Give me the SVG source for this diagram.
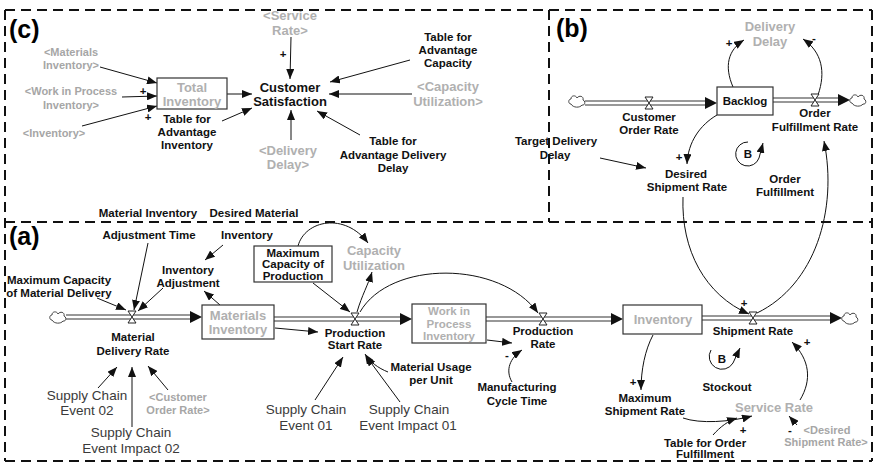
<svg xmlns="http://www.w3.org/2000/svg" width="875" height="463" viewBox="0 0 875 463">
<style>
.t{font-family:"Liberation Sans",Arial,Helvetica,sans-serif;font-weight:bold;font-size:11.5px;fill:#111;text-anchor:middle}
.g{fill:#a6a6a6;font-size:11px}
.gb{fill:#b0b0b0;font-size:13px}
.gw{fill:#b0b0b0;font-size:11.5px}
.big{font-size:13px}
.s{font-weight:normal;font-size:13.5px;fill:#3a3a3a}
.lbl{font-size:25px;text-anchor:start;fill:#000}
.box{fill:#fff;stroke:#333;stroke-width:1.2}
.lk{fill:none;stroke:#111;stroke-width:1;marker-end:url(#ah)}
.pipe{fill:none;stroke:#333;stroke-width:1.2}
.ph{fill:#111}
.vl{fill:#fff;stroke:#222;stroke-width:1}
.cl{fill:#fff;stroke:#444;stroke-width:1}
.dash{fill:none;stroke:#111;stroke-width:2;stroke-dasharray:10 6}
</style>
<defs>
<marker id="ah" markerUnits="userSpaceOnUse" markerWidth="11" markerHeight="8" refX="10" refY="4" orient="auto"><path d="M0,0 L10,4 L0,8 Z" fill="#111"/></marker>
<path id="cloud" d="M-6,3 C-9,3 -9,-2 -6,-2 C-6,-6 -1,-6 0,-3 C2,-6 7,-5 6,-1 C9,0 8,5 5,4 C3,7 -4,7 -6,3 Z"/>
<path id="valve" d="M-4,-6 H4 L-4,6 H4 Z"/>
</defs>
<rect width="875" height="463" fill="#fff"/>
<g id="frames">
<path class="dash" d="M5,10 H872 M5,10 V461 M549,10 V222 M5,222 H872 M872,10 V461 M5,461 H872"/>
<text class="t lbl" x="9" y="38">(c)</text>
<text class="t lbl" x="556" y="37">(b)</text>
<text class="t lbl" x="9" y="245">(a)</text>
</g>
<g id="connectors">
<path class="pipe" d="M585,101 H706 M585,105 H706"/><polygon class="ph" points="705,97 717,103 705,109"/>
<path class="pipe" d="M773,98 H839 M773,102 H839"/><polygon class="ph" points="838,94 850,100 838,106"/>
<path class="pipe" d="M66,315 H191 M66,319 H191"/><polygon class="ph" points="190,311 202,317 190,323"/>
<path class="pipe" d="M274,317 H401 M274,321 H401"/><polygon class="ph" points="400,313 412,319 400,325"/>
<path class="pipe" d="M486,317 H612 M486,321 H612"/><polygon class="ph" points="611,313 623,319 611,325"/>
<path class="pipe" d="M702,316 H831 M702,320 H831"/><polygon class="ph" points="830,312 842,318 830,324"/>
<path class="lk" d="M100,67 L157,83"/>
<path class="lk" d="M122,97 L157,96"/>
<path class="lk" d="M82,126 L157,106"/>
<path class="lk" d="M227,94 L252,94"/>
<path class="lk" d="M222,121 L252,108"/>
<path class="lk" d="M291,37 L290,79"/>
<path class="lk" d="M291,140 L291,110"/>
<path class="lk" d="M410,60 L330,82"/>
<path class="lk" d="M412,94 L329,94"/>
<path class="lk" d="M360,135 L317,111"/>
<path class="lk" d="M733,87 C724,66 728,50 744,40"/>
<path class="lk" d="M818,95 C826,72 822,52 803,39"/>
<path class="lk" d="M717,115 C700,125 688,142 687,164"/>
<path class="lk" d="M600,158 L646,168"/>
<path class="lk" d="M748,142 A12,12 0 1,0 759,158 L763,143"/>
<path class="lk" d="M683,197 C681,250 705,295 749,314"/>
<path class="lk" d="M757,313 C815,285 838,210 824,141"/>
<path class="lk" d="M148,243 L134,310"/>
<path class="lk" d="M223,245 L205,260"/>
<path class="lk" d="M163,288 L138,311"/>
<path class="lk" d="M97,298 L126,310"/>
<path class="lk" d="M220,305 L204,291"/>
<path class="lk" d="M275,328 L318,332"/>
<path class="lk" d="M298,246 C305,220 345,212 368,243"/>
<path class="lk" d="M313,283 L350,312"/>
<path class="lk" d="M357,312 C362,295 368,285 372,272"/>
<path class="lk" d="M360,312 C390,260 500,260 538,313"/>
<path class="lk" d="M487,340 L512,343"/>
<path class="lk" d="M388,372 C378,368 370,362 365,354"/>
<path class="lk" d="M315,400 L343,357"/>
<path class="lk" d="M400,402 L366,356"/>
<path class="lk" d="M512,382 C505,370 510,358 522,350"/>
<path class="lk" d="M98,388 L117,367"/>
<path class="lk" d="M132,427 L132,367"/>
<path class="lk" d="M168,390 L148,366"/>
<path class="lk" d="M653,335 C645,350 641,370 641,390"/>
<path class="lk" d="M711,350 A11,11 0 1,0 733,363 L740,348"/>
<path class="lk" d="M683,418 C700,424 730,422 752,416"/>
<path class="lk" d="M713,435 C720,427 728,421 737,418"/>
<path class="lk" d="M800,400 C812,380 810,360 792,342"/>
<path class="lk" d="M797,425 L789,416"/>
</g>
<g id="polarity">
<text class="t" x="143" y="95">+</text>
<text class="t" x="148" y="121">+</text>
<text class="t" x="283" y="58">+</text>
<text class="t" x="729" y="47">+</text>
<text class="t" x="814" y="42">-</text>
<text class="t" x="679" y="161">+</text>
<text class="t" x="744" y="307">+</text>
<text class="t" x="507" y="359">-</text>
<text class="t" x="633" y="386">+</text>
<text class="t" x="743" y="434">+</text>
<text class="t" x="807" y="346">+</text>
<text class="t" x="790" y="434">-</text>
</g>
<g id="c-materials-inventory"><text class="t g" x="71" y="56">&lt;Materials</text><text class="t g" x="71" y="69">Inventory&gt;</text></g>
<g id="c-wip"><text class="t g" x="71" y="95">&lt;Work in Process</text><text class="t g" x="71" y="109">Inventory&gt;</text></g>
<g id="c-inventory"><text class="t g" x="54" y="137">&lt;Inventory&gt;</text></g>
<g id="total-inventory"><rect class="box" x="157" y="78" width="70" height="31"/><text class="t gb" x="192" y="92">Total</text><text class="t gb" x="192" y="106">Inventory</text></g>
<g id="table-adv-inventory"><text class="t" x="187" y="123">Table for</text><text class="t" x="187" y="136">Advantage</text><text class="t" x="187" y="149">Inventory</text></g>
<g id="customer-satisfaction"><text class="t big" x="290" y="92">Customer</text><text class="t big" x="290" y="106">Satisfaction</text></g>
<g id="c-service-rate"><text class="t gb" x="290" y="20">&lt;Service</text><text class="t gb" x="290" y="35">Rate&gt;</text></g>
<g id="c-delivery-delay"><text class="t gb" x="288" y="155">&lt;Delivery</text><text class="t gb" x="288" y="169">Delay&gt;</text></g>
<g id="table-adv-capacity"><text class="t" x="448" y="41">Table for</text><text class="t" x="448" y="54">Advantage</text><text class="t" x="448" y="67">Capacity</text></g>
<g id="c-capacity-utilization"><text class="t gb" x="448" y="91">&lt;Capacity</text><text class="t gb" x="448" y="106">Utilization&gt;</text></g>
<g id="table-adv-delivery"><text class="t" x="393" y="145">Table for</text><text class="t" x="393" y="159">Advantage Delivery</text><text class="t" x="393" y="172">Delay</text></g>
<g id="delivery-delay"><text class="t gb" x="770" y="31">Delivery</text><text class="t gb" x="770" y="46">Delay</text></g>
<g id="backlog"><rect class="box" x="717" y="87" width="56" height="28"/><text class="t" x="745" y="105">Backlog</text></g>
<g id="cloud-b1"><use href="#cloud" x="577" y="101" class="cl"/></g>
<g id="cloud-b2"><use href="#cloud" x="858" y="100" class="cl"/></g>
<g id="customer-order-rate"><use href="#valve" x="649" y="103" class="vl"/><text class="t" x="649" y="121">Customer</text><text class="t" x="649" y="134">Order Rate</text></g>
<g id="order-fulfillment-rate"><use href="#valve" x="815" y="100" class="vl"/><text class="t" x="815" y="117">Order</text><text class="t" x="815" y="131">Fulfillment Rate</text></g>
<g id="target-delivery-delay"><text class="t" x="556" y="145">Target Delivery</text><text class="t" x="555" y="159">Delay</text></g>
<g id="desired-shipment-rate"><text class="t" x="686" y="178">Desired</text><text class="t" x="687" y="191">Shipment Rate</text></g>
<g id="loop-order-fulfillment"><text class="t" x="748" y="158">B</text><text class="t" x="785" y="183">Order</text><text class="t" x="785" y="196">Fulfillment</text></g>
<g id="material-inventory-adjustment-time"><text class="t" x="148" y="217">Material Inventory</text><text class="t" x="149" y="239">Adjustment Time</text></g>
<g id="desired-material-inventory"><text class="t" x="254" y="217">Desired Material</text><text class="t" x="247" y="239">Inventory</text></g>
<g id="inventory-adjustment"><text class="t" x="188" y="274">Inventory</text><text class="t" x="188" y="287">Adjustment</text></g>
<g id="max-capacity-material-delivery"><text class="t" x="59" y="284">Maximum Capacity</text><text class="t" x="59" y="297">of Material Delivery</text></g>
<g id="cloud-a1"><use href="#cloud" x="58" y="317" class="cl"/></g>
<g id="material-delivery-rate"><use href="#valve" x="132" y="317" class="vl"/><text class="t" x="133" y="341">Material</text><text class="t" x="133" y="355">Delivery Rate</text></g>
<g id="materials-inventory"><rect class="box" x="202" y="305" width="72" height="34"/><text class="t gb" x="238" y="320">Materials</text><text class="t gb" x="238" y="334">Inventory</text></g>
<g id="max-capacity-production"><rect class="box" x="254" y="246" width="78" height="36"/><text class="t" x="293" y="257">Maximum</text><text class="t" x="293" y="268">Capacity of</text><text class="t" x="293" y="280">Production</text></g>
<g id="capacity-utilization"><text class="t gb" x="374" y="255">Capacity</text><text class="t gb" x="374" y="270">Utilization</text></g>
<g id="production-start-rate"><use href="#valve" x="355" y="319" class="vl"/><text class="t" x="355" y="337">Production</text><text class="t" x="355" y="349">Start Rate</text></g>
<g id="wip"><rect class="box" x="412" y="304" width="74" height="39"/><text class="t gw" x="449" y="315">Work in</text><text class="t gw" x="449" y="327.5">Process</text><text class="t gw" x="449" y="340">Inventory</text></g>
<g id="production-rate"><use href="#valve" x="543" y="319" class="vl"/><text class="t" x="543" y="335">Production</text><text class="t" x="543" y="348">Rate</text></g>
<g id="material-usage"><text class="t" x="431" y="371">Material Usage</text><text class="t" x="431" y="384">per Unit</text></g>
<g id="sc-event-01"><text class="t s" x="306" y="414">Supply Chain</text><text class="t s" x="306" y="430">Event 01</text></g>
<g id="sc-impact-01"><text class="t s" x="409" y="414">Supply Chain</text><text class="t s" x="408" y="430">Event Impact 01</text></g>
<g id="sc-event-02"><text class="t s" x="87" y="400">Supply Chain</text><text class="t s" x="87" y="415">Event 02</text></g>
<g id="sc-impact-02"><text class="t s" x="131" y="437">Supply Chain</text><text class="t s" x="131" y="453">Event Impact 02</text></g>
<g id="a-customer-order-rate"><text class="t g" x="178" y="401">&lt;Customer</text><text class="t g" x="178" y="414">Order Rate&gt;</text></g>
<g id="manufacturing-cycle-time"><text class="t" x="517" y="391">Manufacturing</text><text class="t" x="517" y="405">Cycle Time</text></g>
<g id="inventory"><rect class="box" x="623" y="305" width="79" height="29"/><text class="t gb" x="663" y="324">Inventory</text></g>
<g id="cloud-a2"><use href="#cloud" x="850" y="318" class="cl"/></g>
<g id="shipment-rate"><use href="#valve" x="753" y="318" class="vl"/><text class="t" x="753" y="335">Shipment Rate</text></g>
<g id="loop-stockout"><text class="t" x="722" y="363">B</text><text class="t" x="727" y="391">Stockout</text></g>
<g id="max-shipment-rate"><text class="t" x="645" y="402">Maximum</text><text class="t" x="645" y="415">Shipment Rate</text></g>
<g id="service-rate"><text class="t gb" x="774" y="412">Service Rate</text></g>
<g id="table-order-fulfillment"><text class="t" x="705" y="447">Table for Order</text><text class="t" x="705" y="458">Fulfillment</text></g>
<g id="a-desired-shipment-rate"><text class="t g" x="827" y="434">&lt;Desired</text><text class="t g" x="826" y="446">Shipment Rate&gt;</text></g>
</svg>
